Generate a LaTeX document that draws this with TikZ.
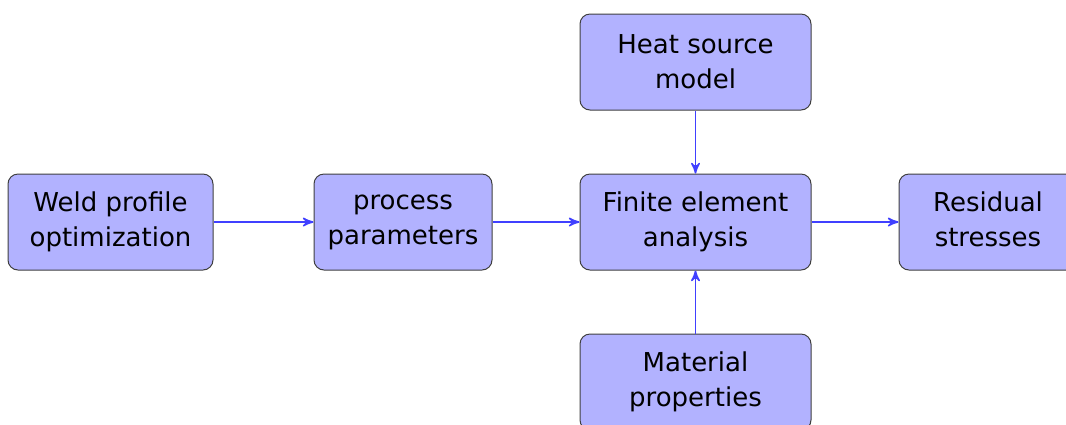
\documentclass[tikz,border=0pt]{standalone}
\usepackage{fontspec}
\setmainfont{DejaVu Sans}
\usepackage{tikz}
\usetikzlibrary{positioning, arrows}
\tikzset{
	>=stealth', % arrow heads
	node distance=64pt and 117pt, % vertical and horizontal distance between the blocks
	block/.style={draw=black!75, fill=blue!30, rounded corners=4pt, align=center,
		minimum height=38.4pt, font=\fontsize{10.4}{14}\selectfont}, % every box
	link/.style={->, draw=blue!75, semithick}, % every arrow
}

\begin{document}
\begin{tikzpicture}[on grid, auto]
			\useasboundingbox (0,0) rectangle (426.4pt,-169.6pt);
			% Define blocks
			\node[block, minimum width=82pt] (weld) at (44.2pt,-88.8pt) {Weld profile\\optimization};
			\node[block, minimum width=71.2pt, right=of weld] (param) {process\\parameters};
			\node[block, minimum width=92.4pt, right=of param] (fea) {Finite element\\analysis};
			\node[block, minimum width=71.2pt, right=of fea] (stress) {Residual\\stresses\vphantom{p}};
			\node[block, minimum width=92.4pt, above=of fea] (heat) {Heat source\\model};
			\node[block, minimum width=92.4pt, below=of fea] (mat) {Material\\properties};
			
			% Arrows
			\path
			(weld) edge[link] (param)
			(param) edge[link] (fea)
			(fea) edge[link] (stress)
			(heat) edge[link] (fea)
			(mat) edge[link] (fea);
		\end{tikzpicture}
\end{document}
